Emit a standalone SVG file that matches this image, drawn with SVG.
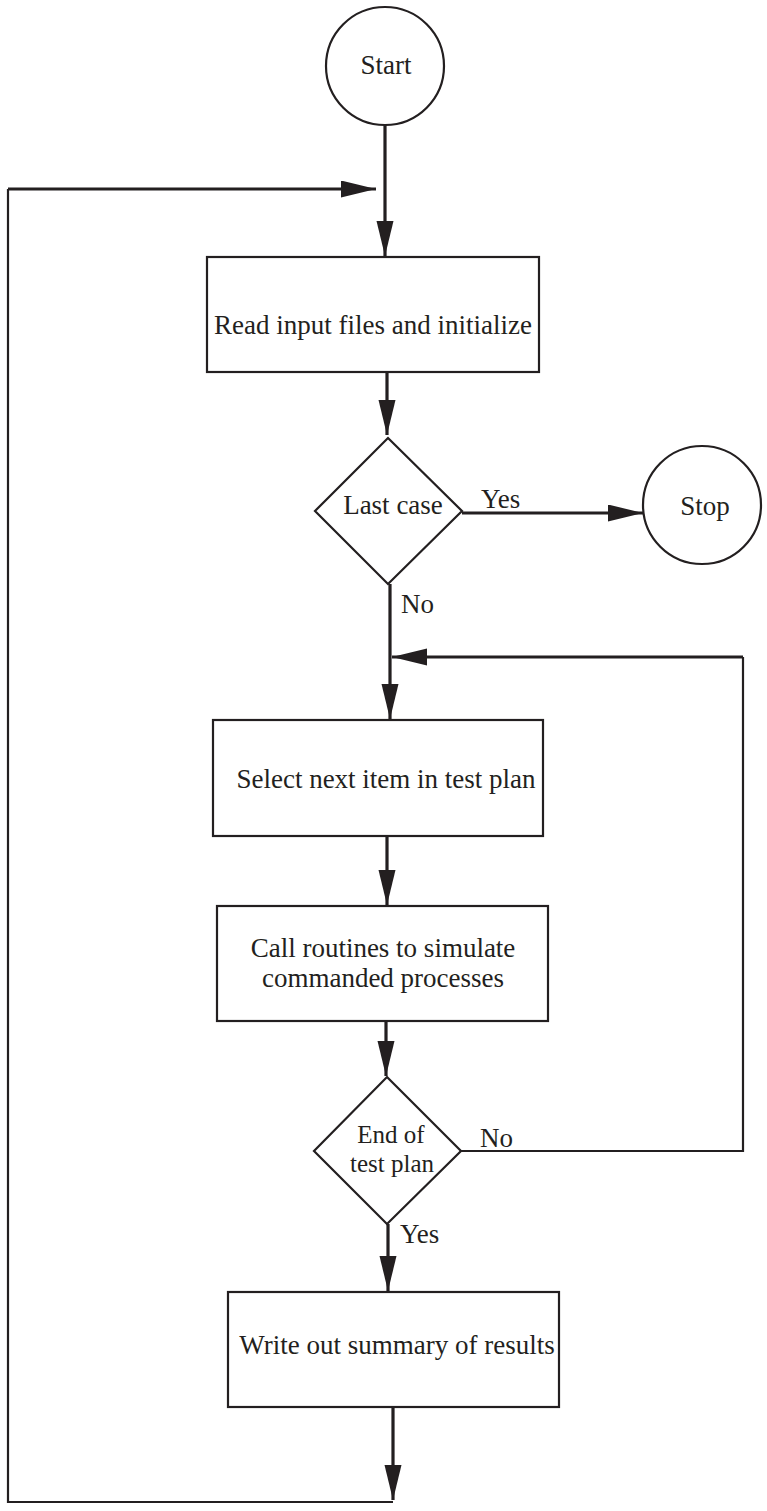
<svg xmlns="http://www.w3.org/2000/svg" width="767" height="1511" viewBox="0 0 767 1511">
<style>
.shape{fill:#fff;stroke:#231f20;stroke-width:2.2}
.t{font-family:"Liberation Serif","Times New Roman","DejaVu Serif",serif;font-size:27px;fill:#231f20}
.s{font-size:25px}
.c{text-anchor:middle}
.thick{fill:none;stroke:#231f20;stroke-width:3.2}
.thin{fill:none;stroke:#231f20;stroke-width:2.2}
</style>
<defs>
<marker id="ah" markerUnits="userSpaceOnUse" markerWidth="36" markerHeight="18" refX="35" refY="8.5" orient="auto" viewBox="0 0 36 18">
<path d="M0,0 L35,8.5 L0,17 z" fill="#231f20"/>
</marker>
</defs>
<rect width="767" height="1511" fill="#fff"/>
<g id="connectors">
<line class="thick" x1="385" y1="125" x2="385" y2="256" marker-end="url(#ah)"/>
<polyline class="thin" points="393,1502 8,1502 8,189"/>
<line class="thick" x1="8" y1="189" x2="376" y2="189" marker-end="url(#ah)"/>
<line class="thick" x1="387" y1="373" x2="387" y2="435" marker-end="url(#ah)"/>
<line class="thick" x1="462" y1="513" x2="643" y2="513" marker-end="url(#ah)"/>
<line class="thick" x1="390" y1="584" x2="390" y2="719" marker-end="url(#ah)"/>
<polyline class="thin" points="461,1151 743,1151 743,657"/>
<line class="thick" x1="743" y1="657" x2="392" y2="657" marker-end="url(#ah)"/>
<line class="thick" x1="387" y1="836" x2="387" y2="905" marker-end="url(#ah)"/>
<line class="thick" x1="386" y1="1021" x2="386" y2="1076" marker-end="url(#ah)"/>
<line class="thick" x1="388" y1="1224" x2="388" y2="1291" marker-end="url(#ah)"/>
<line class="thick" x1="393" y1="1407" x2="393" y2="1500" marker-end="url(#ah)"/>
<text class="t" x="481" y="508">Yes</text>
<text class="t" x="401" y="613">No</text>
<text class="t" x="480" y="1147">No</text>
<text class="t" x="400" y="1243">Yes</text>
</g>
<g id="start">
<circle class="shape" cx="385" cy="66" r="59"/>
<text class="t c" x="386" y="74">Start</text>
</g>
<g id="read">
<rect class="shape" x="207" y="257" width="332" height="115"/>
<text class="t c" x="373" y="334">Read input files and initialize</text>
</g>
<g id="lastcase">
<polygon class="shape" points="388,438 462,511 388,584 315,511"/>
<text class="t c" x="393" y="514">Last case</text>
</g>
<g id="stop">
<circle class="shape" cx="702" cy="505" r="59"/>
<text class="t c" x="705" y="515">Stop</text>
</g>
<g id="select">
<rect class="shape" x="213" y="720" width="330" height="116"/>
<text class="t c" x="386" y="788">Select next item in test plan</text>
</g>
<g id="call">
<rect class="shape" x="217" y="906" width="331" height="115"/>
<text class="t c" x="383" y="957">Call routines to simulate</text>
<text class="t c" x="383" y="987">commanded processes</text>
</g>
<g id="endplan">
<polygon class="shape" points="387,1077 461,1151 387,1224 314,1151"/>
<text class="t s c" x="391" y="1143">End of</text>
<text class="t s c" x="392" y="1172">test plan</text>
</g>
<g id="write">
<rect class="shape" x="228" y="1292" width="331" height="115"/>
<text class="t c" x="397" y="1354">Write out summary of results</text>
</g>
</svg>
